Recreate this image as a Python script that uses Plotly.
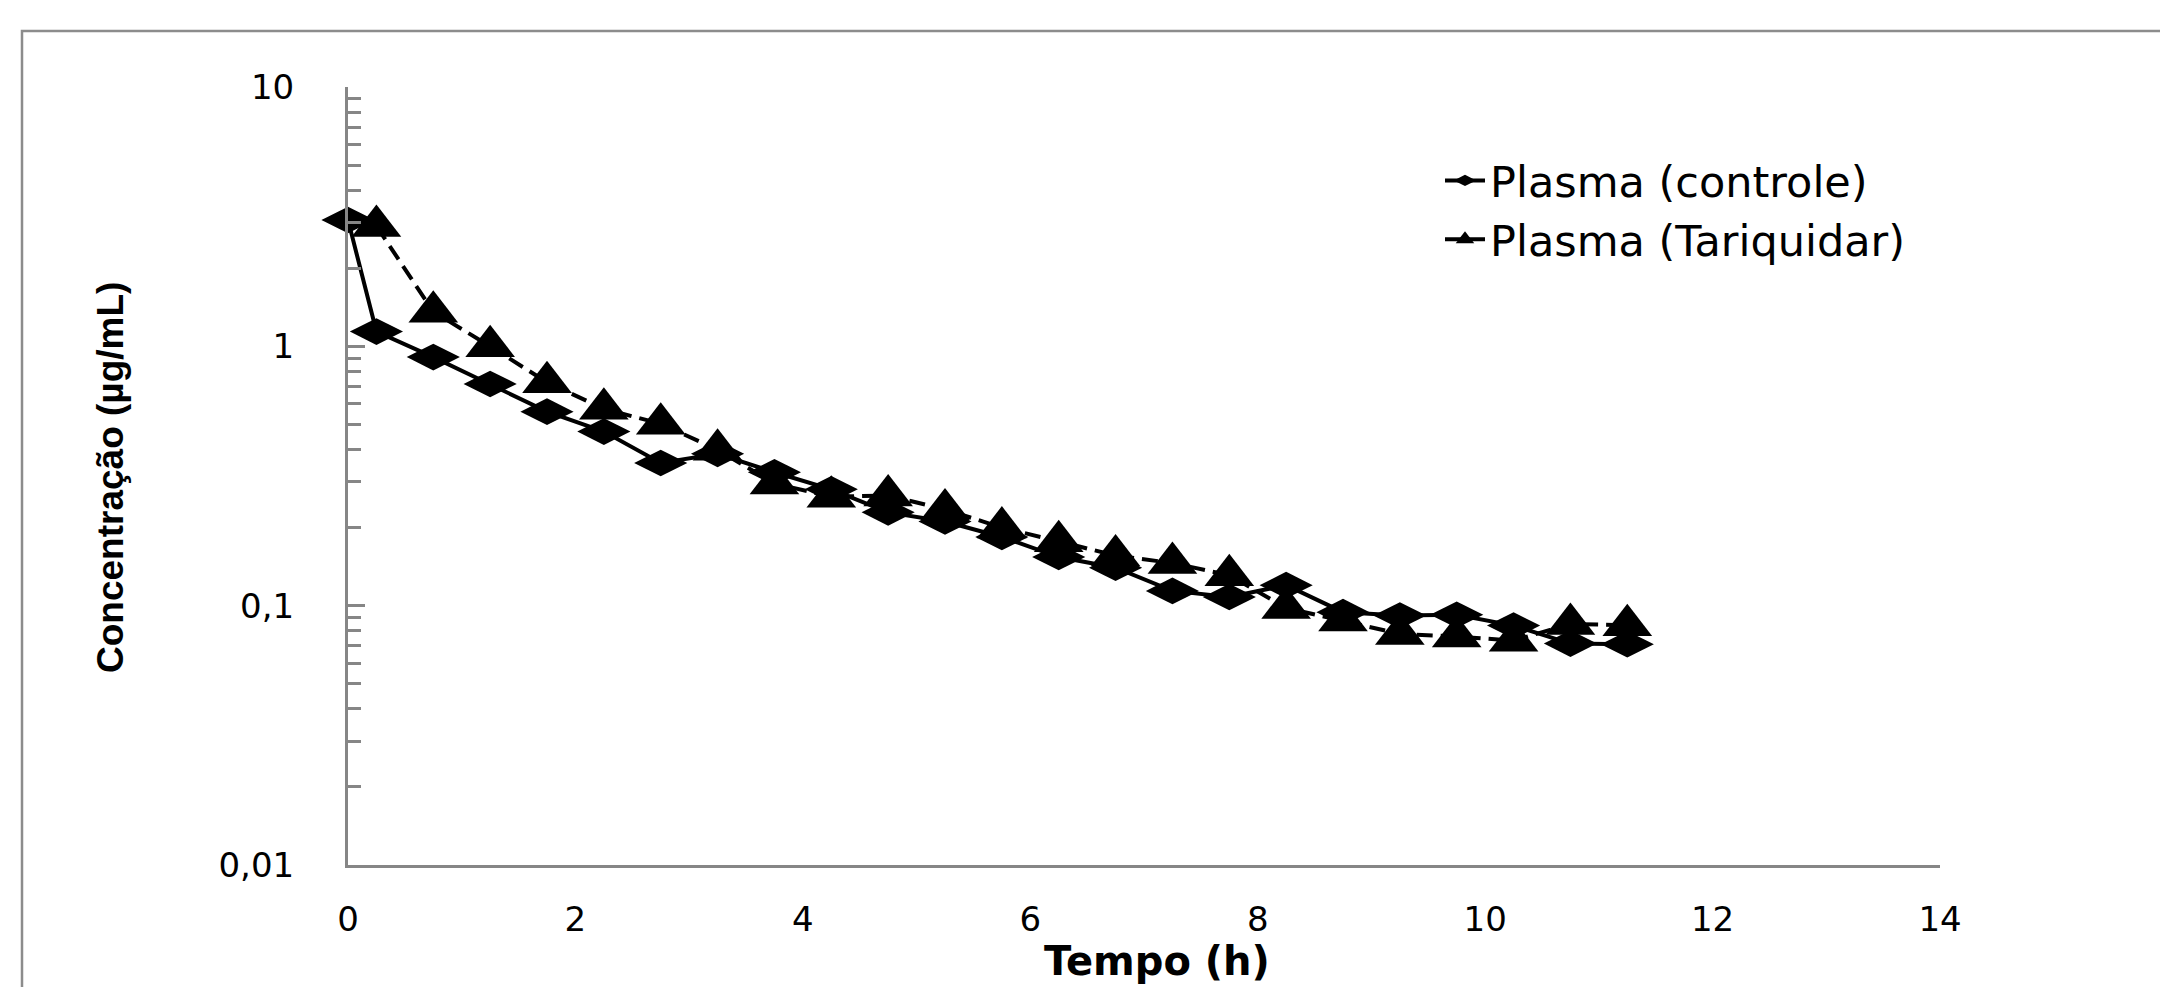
import plotly.graph_objects as go

# ---- data ----
time_controle = [0, 0.25, 0.75, 1.25, 1.75, 2.25, 2.75, 3.25, 3.75, 4.25, 4.75, 5.25,
                 5.75, 6.25, 6.75, 7.25, 7.75, 8.25, 8.75, 9.25, 9.75, 10.25, 10.75, 11.25]
conc_controle = [3.07, 1.14, 0.909, 0.716, 0.560, 0.469, 0.355, 0.385, 0.327, 0.281, 0.229, 0.211,
                 0.184, 0.154, 0.140, 0.114, 0.108, 0.120, 0.0944, 0.0917, 0.0922, 0.0838, 0.0714, 0.071]

time_tariquidar = [0.25, 0.75, 1.25, 1.75, 2.25, 2.75, 3.25, 3.75, 4.25, 4.75, 5.25,
                   5.75, 6.25, 6.75, 7.25, 7.75, 8.25, 8.75, 9.25, 9.75, 10.25, 10.75, 11.25]
conc_tariquidar = [2.91, 1.36, 1.00, 0.727, 0.574, 0.503, 0.399, 0.296, 0.263, 0.266, 0.235,
                   0.200, 0.177, 0.156, 0.146, 0.131, 0.098, 0.0877, 0.0778, 0.076, 0.0733, 0.085, 0.084]

series_names = ["Plasma (controle)", "Plasma (Tariquidar)"]
y_tick_vals = [0.01, 0.1, 1, 10]
y_tick_text = ["0,01", "0,1", "1", "10"]
y_minor_vals = [m * d for d in (0.01, 0.1, 1) for m in range(2, 10)]
x_tick_vals = [0, 2, 4, 6, 8, 10, 12, 14]
x_title = "Tempo (h)"
y_title = "Concentração (µg/mL)"

AXIS_GRAY = "#868686"
W, H = 2160, 987
L, R, T, B = 348, 220, 87, 122
plot_w = W - L - R
plot_h = H - T - B

fig = go.Figure()
fig.add_trace(go.Scatter(
    x=time_controle, y=conc_controle, name=series_names[0], mode="lines+markers",
    line=dict(color="black", width=4),
    marker=dict(symbol="diamond-wide", size=38, color="black"),
    legendgroup="a", cliponaxis=False,
))
fig.add_trace(go.Scatter(
    x=time_tariquidar, y=conc_tariquidar, name=series_names[1], mode="lines+markers",
    line=dict(color="black", width=4, dash="16px,8px"),
    marker=dict(symbol="triangle-up", size=43, color="black"),
    legendgroup="b", cliponaxis=False,
))

fig.update_layout(
    width=W, height=H,
    margin=dict(l=L, r=R, t=T, b=B, pad=0),
    paper_bgcolor="white", plot_bgcolor="white",
    font=dict(family="DejaVu Sans", color="black"),
    showlegend=True,
    legend=dict(
        x=(1440 - L) / plot_w, y=(H - B - 146) / plot_h, xanchor="left", yanchor="top",
        font=dict(family="DejaVu Sans", size=43, color="black"),
        bgcolor="rgba(0,0,0,0)", traceorder="grouped", tracegroupgap=0,
        itemwidth=40,
    ),
    xaxis=dict(
        range=[0, 14], tickmode="array", tickvals=x_tick_vals,
        showgrid=False, zeroline=False, showline=True, linecolor=AXIS_GRAY, linewidth=3,
        ticks="", ticklabelstandoff=22,
        tickfont=dict(family="DejaVu Sans", size=34, color="black"),
    ),
    yaxis=dict(
        type="log", range=[-2, 1], tickmode="array", tickvals=y_tick_vals, ticktext=y_tick_text,
        showgrid=False, zeroline=False, showline=True, linecolor=AXIS_GRAY, linewidth=3,
        ticks="inside", ticklen=17, tickwidth=2.5, tickcolor=AXIS_GRAY,
        ticklabelstandoff=44,
        tickfont=dict(family="DejaVu Sans", size=34, color="black"),
        minor=dict(tickmode="array", tickvals=y_minor_vals, ticks="inside", ticklen=13,
                   tickwidth=2.5, tickcolor=AXIS_GRAY, showgrid=False),
    ),
    annotations=[
        dict(text="<b>" + y_title + "</b>", xref="paper", yref="paper",
             x=(110 - L) / plot_w, y=(H - B - 478) / plot_h, textangle=-90,
             xanchor="center", yanchor="middle", showarrow=False,
             font=dict(family="Liberation Sans", size=37, color="black")),
        dict(text="<b>" + x_title + "</b>", xref="paper", yref="paper",
             x=(1157 - L) / plot_w, y=(H - B - 961) / plot_h,
             xanchor="center", yanchor="middle", showarrow=False,
             font=dict(family="DejaVu Sans", size=40, color="black")),
    ],
    shapes=[
        dict(type="rect", xref="paper", yref="paper", layer="below",
             x0=(22 - L) / plot_w, x1=1.5, y0=-1.0, y1=(H - B - 31) / plot_h,
             line=dict(color="#8c8c8c", width=2.5), fillcolor="rgba(0,0,0,0)"),
    ],
)

fig.write_html("out.html", config={"displayModeBar": False},
               post_script="document.body.style.margin='0px';")
